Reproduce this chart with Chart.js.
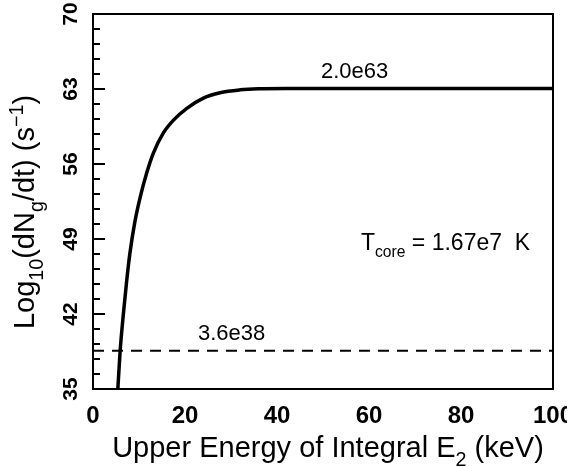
<!DOCTYPE html>
<html>
<head>
<meta charset="utf-8">
<script src="https://cdn.jsdelivr.net/npm/chart.js@4.4.1/dist/chart.umd.min.js"></script>
<style>
  html, body { margin: 0; padding: 0; background: #fff; }
  canvas { display: block; }
</style>
</head>
<body>
<canvas id="rateChart" width="567" height="467"></canvas>
<script>
// Integrated rate vs upper energy of integral

const energyKeV = [5.4, 5.9, 6.6, 7.3, 8.0, 9.1, 10.2, 11.7, 13.1, 15.3, 17.5, 20.4, 24.0, 27.6, 32.0, 36.0, 42.0, 60, 80, 100];
const logRate   = [35.0, 38.55, 42.0, 45.0, 47.6, 50.6, 52.8, 55.2, 57.0, 58.9, 60.1, 61.2, 62.15, 62.65, 62.92, 63.02, 63.05, 63.05, 63.05, 63.05];

const thresholdX = [0, 100];
const thresholdY = [38.56, 38.56];

const yTicks = [35, 42, 49, 56, 63, 70];
const xTicks = [0, 20, 40, 60, 80, 100];

const FONT = '"Liberation Sans", Arial, Helvetica, sans-serif';
const SUB = 0.68;

// draw a string made of pieces with sub/superscripts, starting at x (left), baseline y
function drawRich(ctx, parts, x, y, size) {
    let cx = x;
    parts.forEach(p => {
        const s = p.sub || p.sup ? size * SUB : size;
        ctx.font = `${s}px ${FONT}`;
        let dy = 0;
        if (p.sub) dy = size * 0.3;
        if (p.sup) dy = -size * 0.38;
        ctx.fillText(p.t, cx, y + dy);
        cx += ctx.measureText(p.t).width;
    });
    return cx - x;
}

function richWidth(ctx, parts, size) {
    let w = 0;
    parts.forEach(p => {
        const s = p.sub || p.sup ? size * SUB : size;
        ctx.font = `${s}px ${FONT}`;
        w += ctx.measureText(p.t).width;
    });
    return w;
}

const framePlugin = {
    id: 'frame',
    afterDraw(chart) {
        const ctx = chart.ctx;
        const a = chart.chartArea;
        const ys = chart.scales.y;
        ctx.save();
        ctx.strokeStyle = '#000';
        ctx.fillStyle = '#000';

        // box
        ctx.lineWidth = 2;
        ctx.strokeRect(a.left, a.top, a.right - a.left, a.bottom - a.top);

        // y ticks, inward, minor every 1.4
        for (let i = 0; i <= 25; i++) {
            const v = 35 + i * 1.4;
            const py = Math.round(ys.getPixelForValue(v));
            const len = i % 5 === 0 ? 12 : 7;
            ctx.beginPath();
            ctx.moveTo(a.left, py);
            ctx.lineTo(a.left + len, py);
            ctx.stroke();
        }

        // y tick labels, rotated
        ctx.font = `bold 21px ${FONT}`;
        ctx.textAlign = 'center';
        ctx.textBaseline = 'middle';
        yTicks.forEach(v => {
            const py = ys.getPixelForValue(v);
            ctx.save();
            ctx.translate(71, py);
            ctx.rotate(-Math.PI / 2);
            ctx.fillText(String(v), 0, 0);
            ctx.restore();
        });

        // y title
        const yTitle = [{t: 'Log'}, {t: '10', sub: true}, {t: '(dN'}, {t: 'g', sub: true},
                        {t: '/dt) (s'}, {t: '\u22121', sup: true}, {t: ')'}];
        ctx.textAlign = 'left';
        ctx.textBaseline = 'alphabetic';
        const ySize = 29;
        const yw = richWidth(ctx, yTitle, ySize);
        ctx.save();
        ctx.translate(34, 212);
        ctx.rotate(-Math.PI / 2);
        drawRich(ctx, yTitle, -yw / 2, 0, ySize);
        ctx.restore();

        // x title
        const xTitle = [{t: 'Upper Energy of Integral E'}, {t: '2', sub: true}, {t: ' (keV)'}];
        const xSize = 29;
        const xw = richWidth(ctx, xTitle, xSize);
        drawRich(ctx, xTitle, 328 - xw / 2, 457, xSize);

        // annotations
        ctx.font = `22px ${FONT}`;
        ctx.fillText('2.0e63', 321, 78);
        ctx.fillText('3.6e38', 198, 340);
        drawRich(ctx, [{t: 'T'}, {t: 'core', sub: true}, {t: ' = 1.67e7  K'}], 361, 250, 23);

        ctx.restore();
    }
};

const ctx = document.getElementById('rateChart').getContext('2d');

new Chart(ctx, {
    type: 'line',
    data: {
        datasets: [
            {
                data: energyKeV.map((x, i) => ({x: x, y: logRate[i]})),
                borderColor: '#000',
                borderWidth: 3.5,
                pointRadius: 0,
                cubicInterpolationMode: 'monotone',
                fill: false
            },
            {
                data: thresholdX.map((x, i) => ({x: x, y: thresholdY[i]})),
                borderColor: '#000',
                borderWidth: 2,
                borderDash: [11, 8],
                pointRadius: 0,
                fill: false
            }
        ]
    },
    options: {
        responsive: false,
        devicePixelRatio: 1,
        animation: false,
        layout: { padding: { left: 0, right: 14, top: 14, bottom: 0 } },
        plugins: {
            legend: { display: false },
            tooltip: { enabled: false }
        },
        scales: {
            x: {
                type: 'linear',
                min: 0,
                max: 100,
                afterBuildTicks: scale => { scale.ticks = xTicks.map(v => ({value: v})); },
                grid: { display: false, drawTicks: false },
                border: { display: false },
                ticks: {
                    color: '#000',
                    padding: 13,
                    maxRotation: 0,
                    font: { family: FONT, size: 24, weight: 'bold' }
                },
                afterFit: scale => {
                    scale.height = 78;
                    scale.paddingLeft = 0;
                    scale.paddingRight = 0;
                }
            },
            y: {
                type: 'linear',
                min: 35,
                max: 70,
                afterBuildTicks: scale => { scale.ticks = yTicks.map(v => ({value: v})); },
                grid: { display: false, drawTicks: false },
                border: { display: false },
                ticks: { display: false },
                afterFit: scale => {
                    scale.width = 93;
                    scale.paddingTop = 0;
                    scale.paddingBottom = 0;
                }
            }
        }
    },
    plugins: [framePlugin]
});
</script>
</body>
</html>
